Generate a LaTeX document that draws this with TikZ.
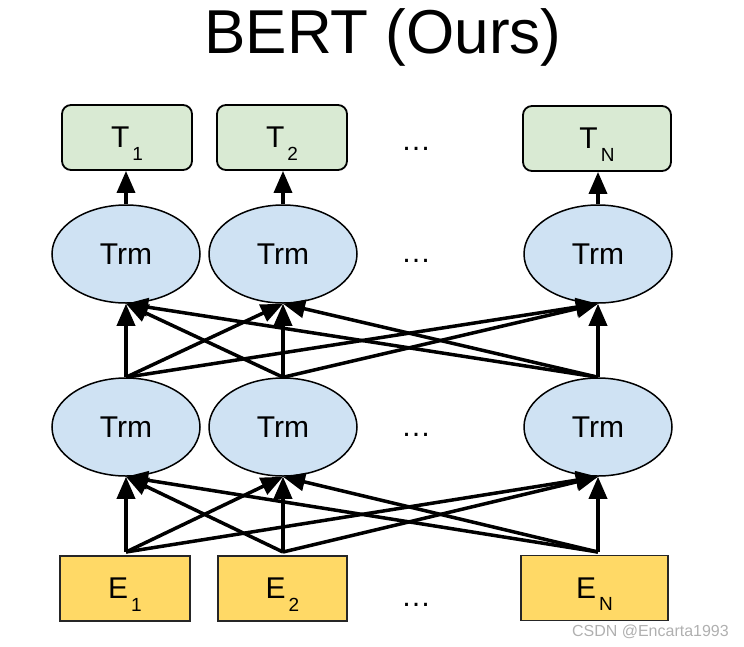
\documentclass[tikz,border=0pt]{standalone}
\usepackage{fontspec}
\setmainfont{Liberation Sans}
\usetikzlibrary{arrows.meta,shapes.geometric}
\definecolor{tgreen}{HTML}{D9EAD3}
\definecolor{tblue}{HTML}{CFE2F3}
\definecolor{tyellow}{HTML}{FFD966}
\definecolor{wmgray}{HTML}{B0B0B0}
\newcommand\lblsub[2]{#1\kern3pt\smash{\raisebox{-12.5pt}{\fontsize{19}{19}\selectfont #2}}}
\tikzset{
  outbox/.style={draw=black, line width=1.8pt, fill=tgreen, rounded corners=9pt,
    minimum height=65pt, inner sep=0pt, font=\fontsize{30}{30}\selectfont},
  inbox/.style={draw=black!85, line width=1.8pt, fill=tyellow,
    minimum height=65pt, inner sep=0pt, font=\fontsize{30}{30}\selectfont},
  trm/.style={draw=black, line width=1.5pt, fill=tblue, ellipse,
    minimum width=148pt, minimum height=98pt, inner sep=0pt, font=\fontsize{30}{30}\selectfont},
  conn/.style={line width=3.5pt, -{Triangle[length=22pt,width=18pt]}},
  dotsl/.style={anchor=base, inner sep=0pt, font=\fontsize{30}{30}\selectfont},
}
\begin{document}
\begin{tikzpicture}[x=1pt,y=-1pt]
\useasboundingbox (0,0) rectangle (744,646);
% title
\node[anchor=base, inner sep=0pt, font=\fontsize{62}{62}\selectfont] (title) at (383,53) {BERT (Ours)};
% output boxes
\node[outbox, minimum width=130pt] (t1) at (127,137.5) {\lblsub{T}{1}};
\node[outbox, minimum width=130pt] (t2) at (282,137.5) {\lblsub{T}{2}};
\node[outbox, minimum width=148pt] (tn) at (597,138.5) {\lblsub{T}{N}};
% upper Trm
\node[trm] (u1) at (126,254) {Trm};
\node[trm] (u2) at (283,254) {Trm};
\node[trm] (un) at (598,254) {Trm};
% lower Trm
\node[trm] (l1) at (126,427) {Trm};
\node[trm] (l2) at (283,427) {Trm};
\node[trm] (ln) at (598,427) {Trm};
% input boxes
\node[inbox, minimum width=130pt] (e1) at (125,588.5) {\lblsub{E}{1}};
\node[inbox, minimum width=129pt] (e2) at (282.5,588.5) {\lblsub{E}{2}};
\node[inbox, minimum width=147pt] (en) at (594.5,588) {\lblsub{E}{N}};
% dots
\node[dotsl] (d1) at (416,150) {…};
\node[dotsl] (d2) at (416,262) {…};
\node[dotsl] (d3) at (416,436) {…};
\node[dotsl] (d4) at (416,606) {…};
% start points above input boxes
\coordinate (s1) at (126,552);
\coordinate (s2) at (283,552);
\coordinate (sn) at (598,552);
% input -> lower Trm
\foreach \s in {s1,s2,sn}{
  \foreach \t in {l1,l2,ln}{
    \draw[conn] (\s) -- (\t.south);
  }
}
% lower -> upper Trm
\foreach \s in {l1,l2,ln}{
  \foreach \t in {u1,u2,un}{
    \draw[conn] (\s.north) -- (\t.south);
  }
}
% upper Trm -> outputs
\draw[conn] (u1.north) -- (u1.north |- t1.south);
\draw[conn] (u2.north) -- (u2.north |- t2.south);
\draw[conn] (un.north) -- (un.north |- tn.south);
% watermark
\node[anchor=base east, inner sep=0pt, text=wmgray, font=\fontsize{16}{16}\selectfont] (wm) at (729,636) {CSDN @Encarta1993};
\end{tikzpicture}
\end{document}
